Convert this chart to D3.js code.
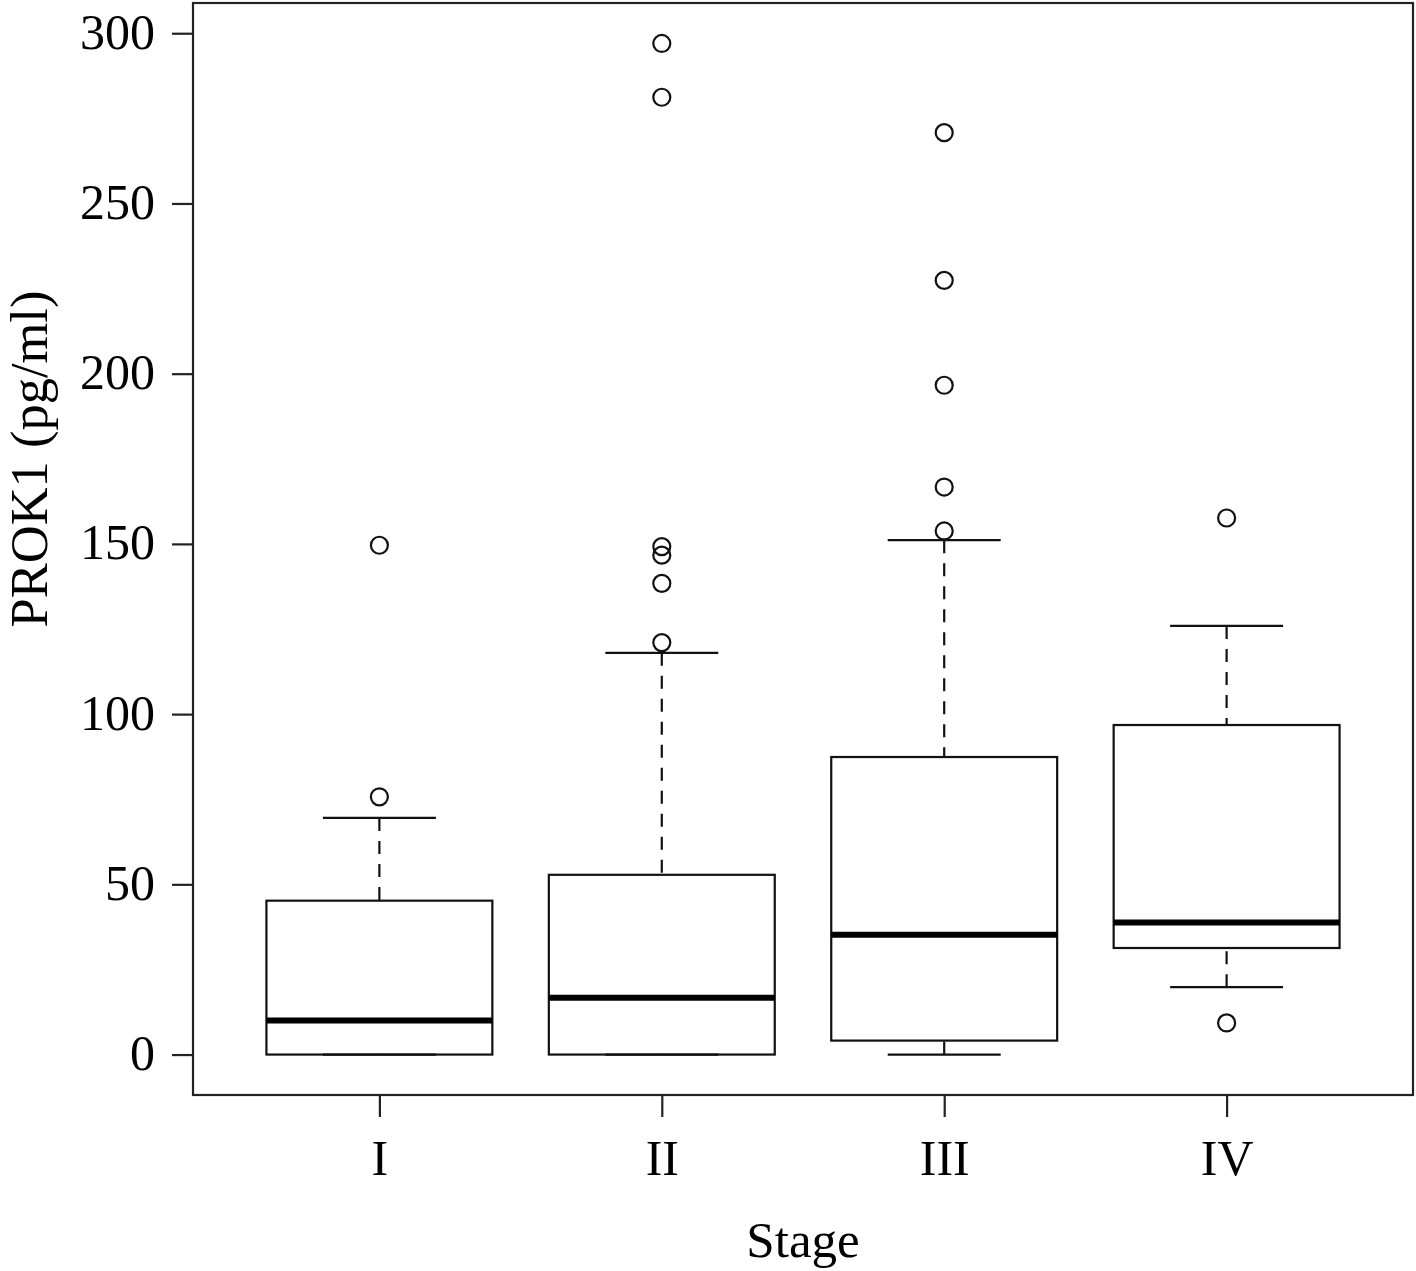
<!DOCTYPE html>
<html>
<head>
<meta charset="utf-8">
<script src="https://cdn.jsdelivr.net/npm/d3@7"></script>
<style>
  html, body { margin: 0; padding: 0; background: #fff; }
  svg { display: block; }
  text { font-family: "Liberation Serif", "DejaVu Serif", serif; fill: #000; }
</style>
</head>
<body>
<svg id="chart" width="1416" height="1271"></svg>
<script>
// ---- data ----
const categories   = ["I", "II", "III", "IV"];
const whiskerLow   = [0, 0, 0, 19.8];
const q1           = [0, 0, 4.1, 31.3];
const medians      = [10.0, 16.7, 35.2, 38.8];
const q3           = [45.2, 52.8, 87.4, 96.8];
const whiskerHigh  = [69.5, 118.0, 151.1, 125.9];
const outliers     = [
  [75.7, 149.6],
  [121.0, 138.4, 146.7, 149.2, 281.2, 297.0],
  [153.8, 166.7, 196.6, 227.4, 270.8],
  [9.3, 157.6]
];
const yTicks = [0, 50, 100, 150, 200, 250, 300];
const yLabel = "PROK1 (pg/ml)";
const xLabel = "Stage";

// ---- layout ----
const svg = d3.select("#chart");
const plot = { left: 193, right: 1413, top: 3, bottom: 1095 };
const n = categories.length;
// R-style 4% expansion of x range [0.5, n+0.5]
const x = d3.scaleLinear().domain([0.5 - 0.04 * n, n + 0.5 + 0.04 * n]).range([plot.left, plot.right]);
const allVals = [].concat(whiskerLow, whiskerHigh, ...outliers);
const yMin = d3.min(allVals), yMax = d3.max(allVals);
const yExp = 0.04 * (yMax - yMin);
const y = d3.scaleLinear().domain([yMin - yExp, yMax + yExp]).range([plot.bottom, plot.top]);

const boxW = x(1.4) - x(1);        // half-width of box (0.8 wide)
const capW = boxW / 2;             // staple half-width
const stroke = "#111";
const lw = 2.2;
const data = categories.map((c, i) => ({
  c, i: i + 1, lo: whiskerLow[i], q1: q1[i], med: medians[i], q3: q3[i], hi: whiskerHigh[i], out: outliers[i]
}));

const g = svg.append("g");

data.forEach(d => {
  const cx = x(d.i);
  // whiskers (dashed), drawn from whisker end toward box
  [[d.hi, d.q3], [d.lo, d.q1]].forEach(([a, b]) => {
    g.append("line")
      .attr("x1", cx).attr("x2", cx)
      .attr("y1", y(a)).attr("y2", y(b))
      .attr("stroke", stroke).attr("stroke-width", lw)
      .attr("stroke-dasharray", "13,10");
  });
  [d.hi, d.lo].forEach(v => {
    g.append("line")
      .attr("x1", cx - capW).attr("x2", cx + capW)
      .attr("y1", y(v)).attr("y2", y(v))
      .attr("stroke", stroke).attr("stroke-width", lw);
  });
  // box
  g.append("rect")
    .attr("x", cx - boxW).attr("width", 2 * boxW)
    .attr("y", y(d.q3)).attr("height", y(d.q1) - y(d.q3))
    .attr("fill", "none").attr("stroke", stroke).attr("stroke-width", lw);
  // median
  g.append("line")
    .attr("x1", cx - boxW).attr("x2", cx + boxW)
    .attr("y1", y(d.med)).attr("y2", y(d.med))
    .attr("stroke", "#000").attr("stroke-width", 6);
  // outliers
  g.selectAll(null).data(d.out).enter().append("circle")
    .attr("cx", cx).attr("cy", v => y(v)).attr("r", 8.5)
    .attr("fill", "none").attr("stroke", stroke).attr("stroke-width", 2.2);
});

// frame
svg.append("rect")
  .attr("x", plot.left).attr("y", plot.top)
  .attr("width", plot.right - plot.left).attr("height", plot.bottom - plot.top)
  .attr("fill", "none").attr("stroke", "#222").attr("stroke-width", 2.2);

// y axis
const yAxis = d3.axisLeft(y).tickValues(yTicks).tickSize(21).tickPadding(17).tickFormat(d3.format("d"));
const ya = svg.append("g").attr("transform", `translate(${plot.left},0)`).call(yAxis);
ya.select(".domain").remove();
ya.selectAll(".tick line").attr("stroke", "#222").attr("stroke-width", 2.2);
ya.selectAll(".tick text").attr("font-size", 50).attr("font-family", "Liberation Serif").attr("dy", "0.3em").attr("fill", "#000");

// x axis
const xAxis = d3.axisBottom(x).tickValues(d3.range(1, n + 1)).tickSize(22).tickPadding(22)
  .tickFormat(i => categories[i - 1]);
const xa = svg.append("g").attr("transform", `translate(0,${plot.bottom})`).call(xAxis);
xa.select(".domain").remove();
xa.selectAll(".tick line").attr("stroke", "#222").attr("stroke-width", 2.2);
xa.selectAll(".tick text").attr("font-size", 50).attr("font-family", "Liberation Serif").attr("fill", "#000");

// axis titles
svg.append("text")
  .attr("x", (plot.left + plot.right) / 2).attr("y", 1257)
  .attr("text-anchor", "middle").attr("font-size", 51)
  .text(xLabel);
svg.append("text")
  .attr("transform", "translate(47,459) rotate(-90)")
  .attr("text-anchor", "middle").attr("font-size", 52.5)
  .text(yLabel);
</script>
</body>
</html>
